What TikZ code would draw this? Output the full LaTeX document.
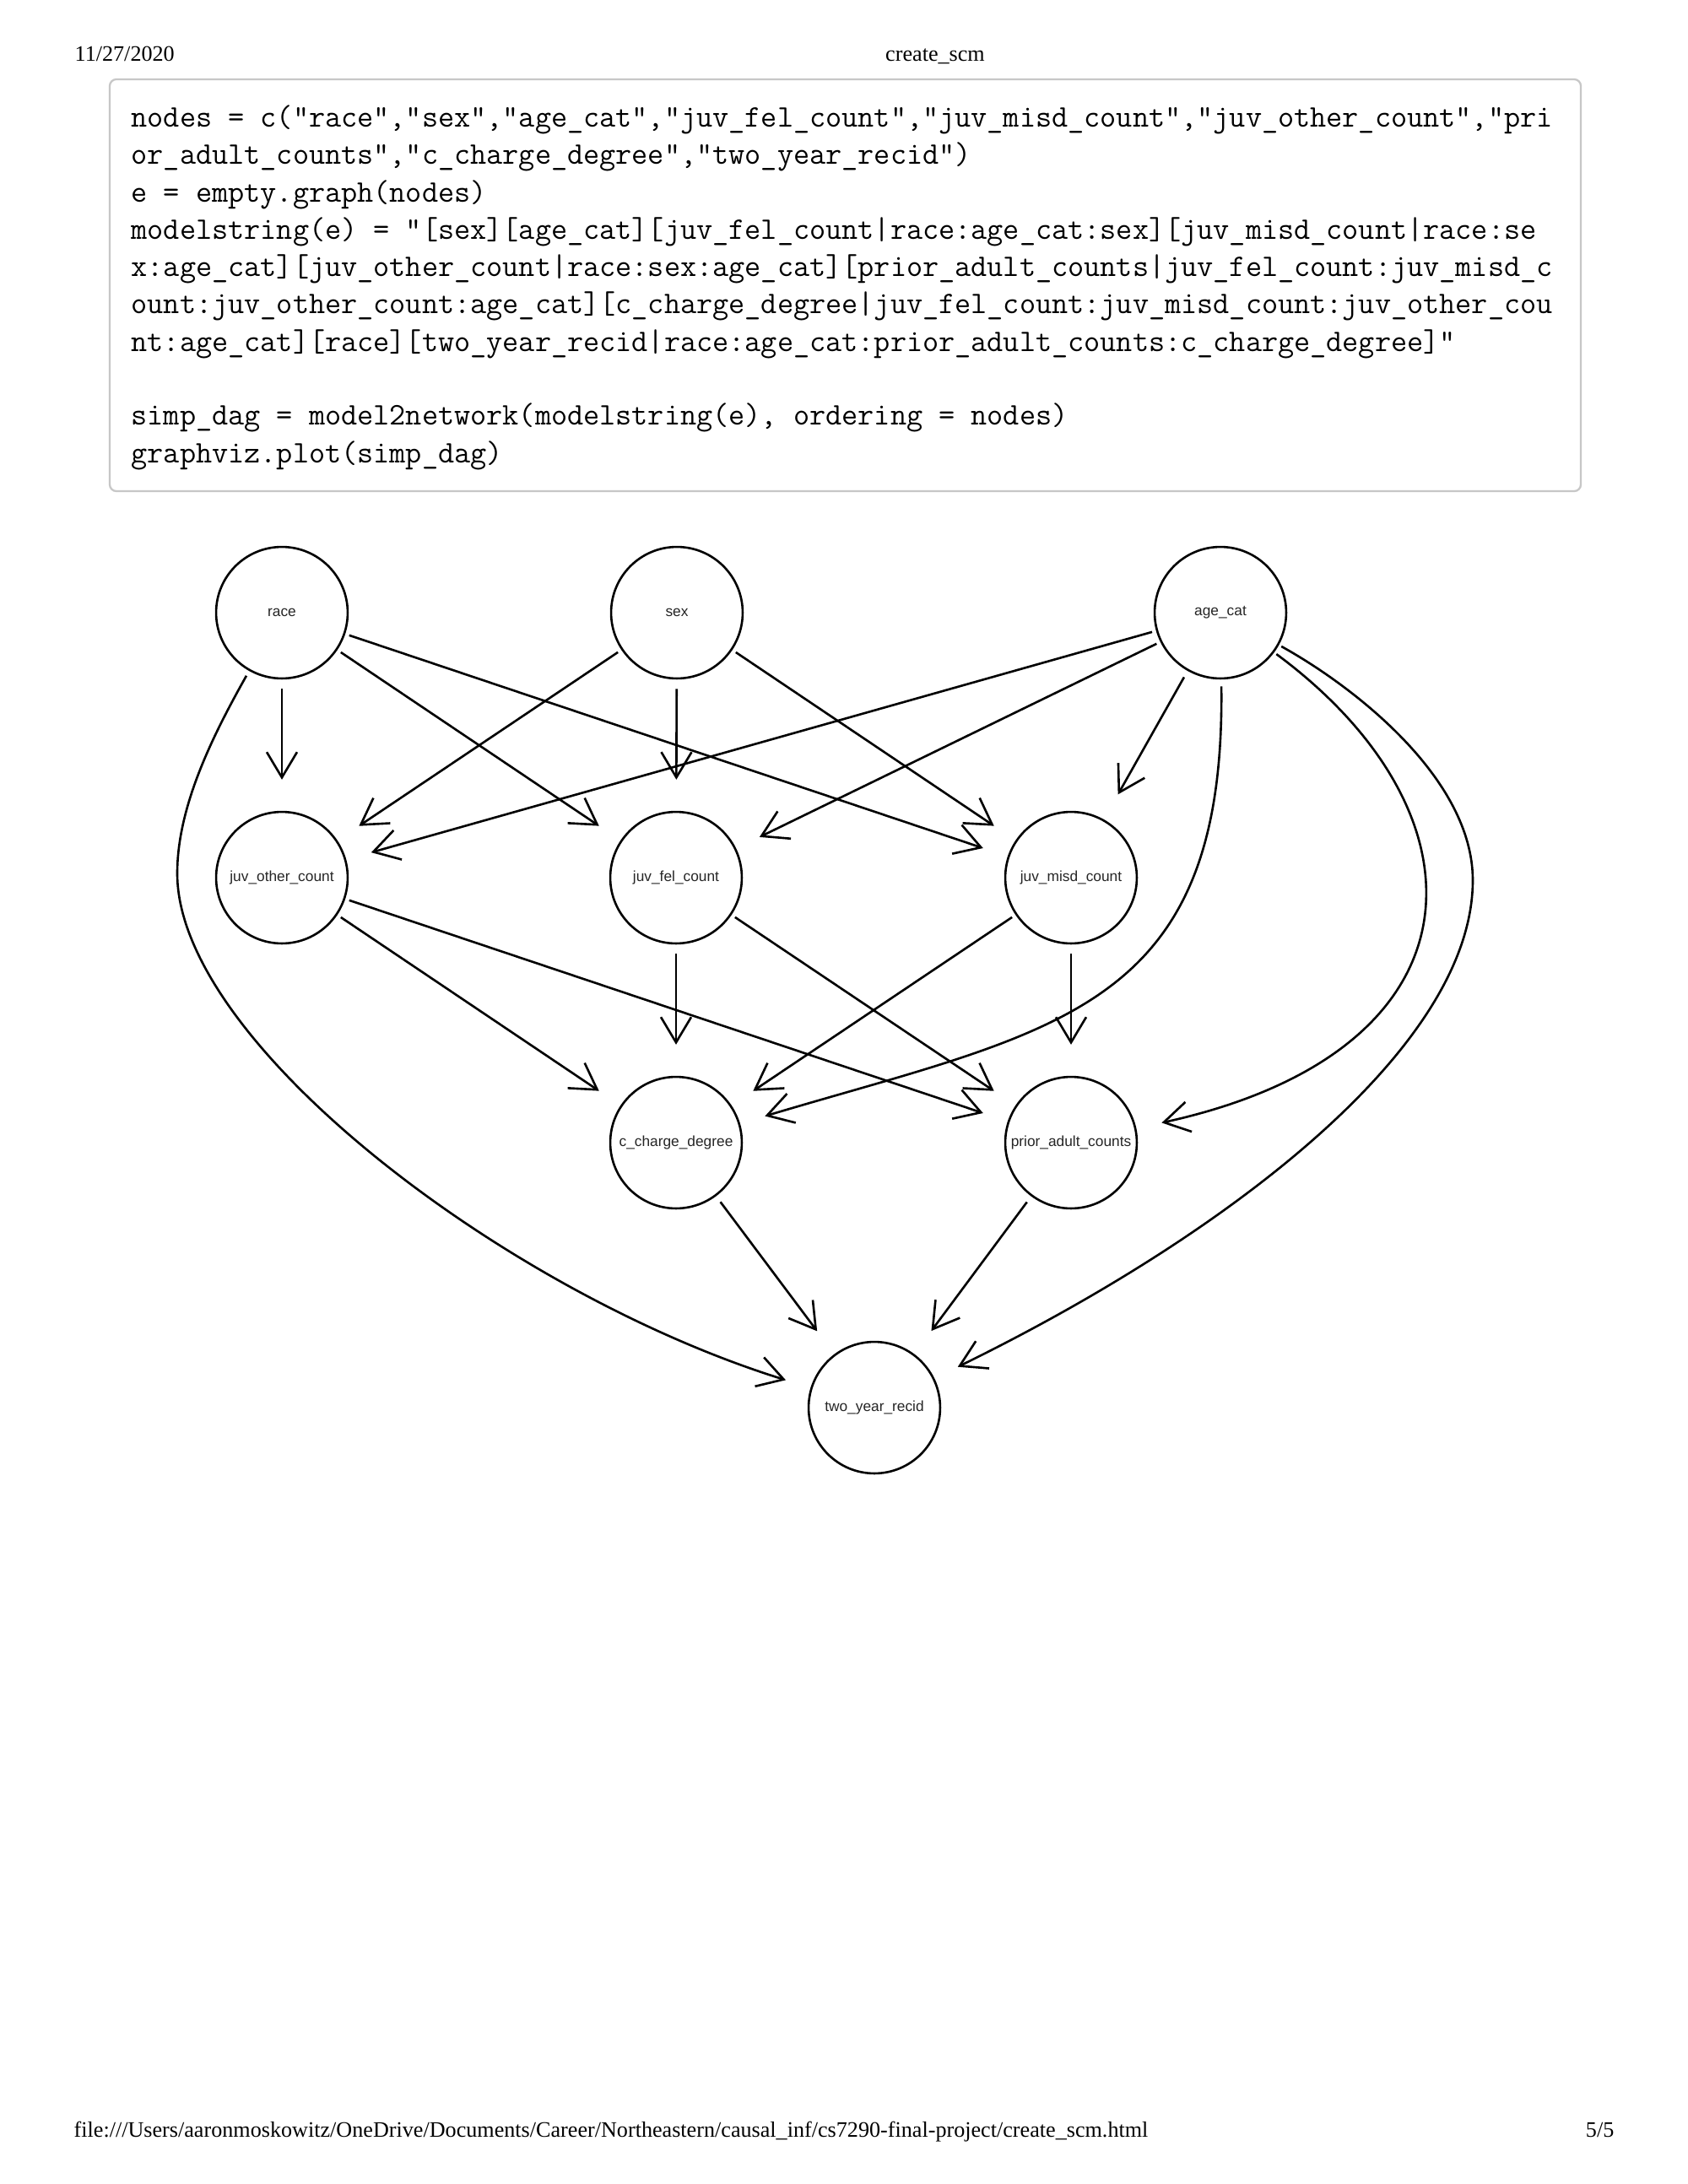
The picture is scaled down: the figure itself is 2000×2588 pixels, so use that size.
\documentclass[tikz,border=0pt]{standalone}
\usepackage{fontspec}
\setmainfont{Liberation Serif}
\newfontfamily\lblfont{Liberation Sans}
\usetikzlibrary{arrows.meta}
\begin{document}
\begin{tikzpicture}[x=0.306pt,y=-0.306pt,
  dagnode/.style={circle, draw, line width=0.8pt, minimum size=47.7pt, inner sep=0pt,
    font=\lblfont\fontsize{5.3}{6}\selectfont, text=black!85},
  dagedge/.style={line width=0.8pt, -{Straight Barb[length=9.2pt,width=11pt]},
    shorten <=1.5pt, shorten >=9.4pt},
  dagv/.style={dagedge, shorten <=3.4pt, shorten >=11.3pt},
  dags/.style={dagedge, shorten <=2.6pt, shorten >=10.4pt},
  codeline/.style={anchor=base west, inner sep=0pt,
    font=\ttfamily\fontsize{11.37}{13}\selectfont, text=black},
  pagetext/.style={anchor=base west, inner sep=0pt, font=\fontsize{8}{9.6}\selectfont}]

\fill[white] (0,0) rectangle (2000,2588);

% page header / footer
\node[pagetext] (date) at (88,72) {11/27/2020};
\node[pagetext, anchor=base] (title) at (1108,72) {create\_scm};
\node[pagetext] (url) at (87,2532) {file:///Users/aaronmoskowitz/OneDrive/Documents/Career/Northeastern/causal\_inf/cs7290-final-project/create\_scm.html};
\node[pagetext, anchor=base east] (pg) at (1913,2532) {5/5};

% code box
\draw[black!22, line width=0.7pt, rounded corners=2.4pt] (130,94) rectangle (1873,582);
\node[codeline] (c1) at (155,150) {nodes = c("race","sex","age\_cat","juv\_fel\_count","juv\_misd\_count","juv\_other\_count","pri};
\node[codeline] (c2) at (155,194.5) {or\_adult\_counts","c\_charge\_degree","two\_year\_recid")};
\node[codeline] (c3) at (155,239) {e = empty.graph(nodes)};
\node[codeline] (c4) at (155,283) {modelstring(e) = "[sex][age\_cat][juv\_fel\_count|race:age\_cat:sex][juv\_misd\_count|race:se};
\node[codeline] (c5) at (155,327) {x:age\_cat][juv\_other\_count|race:sex:age\_cat][prior\_adult\_counts|juv\_fel\_count:juv\_misd\_c};
\node[codeline] (c6) at (155,371.5) {ount:juv\_other\_count:age\_cat][c\_charge\_degree|juv\_fel\_count:juv\_misd\_count:juv\_other\_cou};
\node[codeline] (c7) at (155,416) {nt:age\_cat][race][two\_year\_recid|race:age\_cat:prior\_adult\_counts:c\_charge\_degree]"};
\node[codeline] (c8) at (155,503.5) {simp\_dag = model2network(modelstring(e), ordering = nodes)};
\node[codeline] (c9) at (155,548) {graphviz.plot(simp\_dag)};

% graph nodes
\node[dagnode] (race) at (334,726) {race};
\node[dagnode] (sex)  at (802,726) {sex};
\node[dagnode] (age)  at (1446,726) {age\_cat};
\node[dagnode] (jo)   at (334,1040) {juv\_other\_count};
\node[dagnode] (jf)   at (801,1040) {juv\_fel\_count};
\node[dagnode] (jm)   at (1269,1040) {juv\_misd\_count};
\node[dagnode] (cc)   at (801,1354) {c\_charge\_degree};
\node[dagnode] (pa)   at (1269,1354) {prior\_adult\_counts};
\node[dagnode] (ty)   at (1036,1668) {two\_year\_recid};

% straight edges
\draw[dagv] (race) -- (jo);
\draw[dagedge] (race) -- (jf);
\draw[dagedge] (race) -- (jm);
\draw[dagedge] (sex) -- (jo);
\draw[dagv] (sex) -- (jf);
\draw[dagedge] (sex) -- (jm);
\draw[dagedge] (age) -- (jo);
\draw[dagedge] (age) -- (jf);
\draw[dags] (age) -- (jm);
\draw[dagedge] (jo) -- (cc);
\draw[dagedge] (jo) -- (pa);
\draw[dagv] (jf) -- (cc);
\draw[dagedge] (jf) -- (pa);
\draw[dagedge] (jm) -- (cc);
\draw[dagv] (jm) -- (pa);
\draw[dags] (cc) -- (ty);
\draw[dags] (pa) -- (ty);

% curved edges
\draw[dagedge, shorten <=2pt] (race) .. controls (253,870) and (210,955) .. (210,1035)
  .. controls (210,1235) and (599,1532) .. (ty);
\draw[dagedge, shorten <=2.5pt] (age) .. controls (1452,1200) and (1250,1220) .. (cc);
\draw[dagedge, shorten <=1pt] (age) .. controls (1769,965) and (1766,1245) .. (pa);
\draw[dagedge, shorten <=1pt] (age) .. controls (1605,814) and (1745,923) .. (1745,1043)
  .. controls (1745,1243) and (1449,1466) .. (ty);
\end{tikzpicture}
\end{document}
